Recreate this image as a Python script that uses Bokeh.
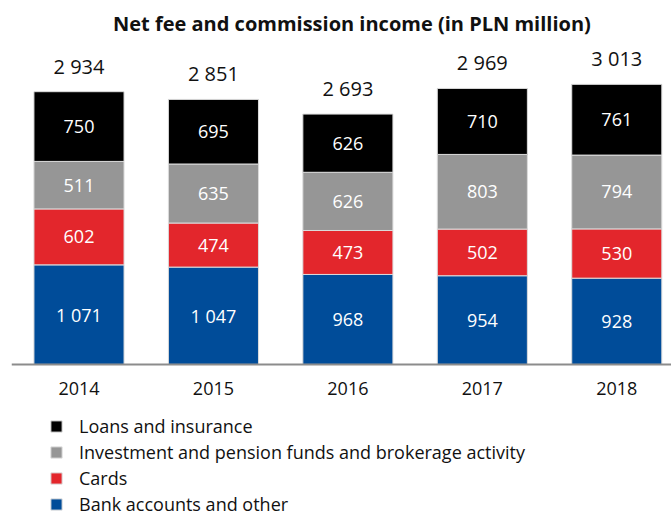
from bokeh.plotting import figure
from bokeh.models import ColumnDataSource, Range1d, FixedTicker, Legend, LegendItem, Label
from bokeh.embed import file_html
from bokeh.resources import INLINE
from bokeh.core.properties import value

years = ["2014", "2015", "2016", "2017", "2018"]
bank = [1071, 1047, 968, 954, 928]
cards = [602, 474, 473, 502, 530]
invest = [511, 635, 626, 803, 794]
loans = [750, 695, 626, 710, 761]
totals = [2934, 2851, 2693, 2969, 3013]
series_keys = ["bank", "cards", "invest", "loans"]
series_names = ["Bank accounts and other", "Cards",
                "Investment and pension funds and brokerage activity", "Loans and insurance"]
colors = ["#004c99", "#e3262c", "#969696", "#000000"]
title_text = "Net fee and commission income (in PLN million)"

FONT = "Open Sans"
Y_TOP = 3915
Y_BOTTOM = -1636


def fmt(v):
    return f"{v:,}".replace(",", " ")


x = list(range(len(years)))
source = ColumnDataSource(dict(x=x, bank=bank, cards=cards, invest=invest, loans=loans))

p = figure(width=671, height=516, output_backend="svg", toolbar_location=None,
           x_range=Range1d(-0.502, 4.407), y_range=Range1d(Y_BOTTOM, Y_TOP),
           min_border_left=11, min_border_right=0, min_border_top=0, min_border_bottom=0)

renderers = p.vbar_stack(series_keys, x="x", width=0.67, color=colors,
                         line_color="#dcdcdc", line_width=1, source=source)

# segment labels
lx, ly, lt = [], [], []
vals = [bank, cards, invest, loans]
for i in x:
    base = 0
    for s in vals:
        lx.append(i)
        ly.append(base + s[i] / 2)
        lt.append(fmt(s[i]))
        base += s[i]
p.text(x=lx, y=ly, text=lt, text_color="white", text_font=value(FONT),
       text_font_size="18px", text_align="center", text_baseline="middle")

# totals
p.text(x=x, y=totals, text=[fmt(t) for t in totals], text_color="#111111",
       text_font=value(FONT), text_font_size="20px", text_align="center",
       text_baseline="bottom", y_offset=-12)

# title
p.add_layout(Label(x=2.03, y=3667, text=title_text, text_font=FONT,
                   text_font_size="20px", text_font_style="bold", text_color="#111111",
                   text_align="center", text_baseline="middle"))

xa = p.xaxis[0]
xa.fixed_location = 0
xa.ticker = FixedTicker(ticks=x)
xa.major_label_overrides = {i: y for i, y in enumerate(years)}
xa.major_tick_line_color = None
xa.minor_tick_line_color = None
xa.major_tick_out = 0
xa.major_tick_in = 0
xa.axis_line_color = "#8c8c8c"
xa.axis_line_width = 2
xa.major_label_text_font = FONT
xa.major_label_text_font_size = "18px"
xa.major_label_text_color = "#111111"
xa.major_label_standoff = 18
p.yaxis.visible = False
p.xgrid.visible = False
p.ygrid.visible = False
p.outline_line_color = None

items = [LegendItem(label=series_names[k], renderers=[renderers[k]]) for k in [3, 2, 1, 0]]
legend = Legend(items=items, location=(38, 0), orientation="vertical",
                border_line_color=None, background_fill_alpha=0,
                label_text_font=FONT, label_text_font_size="18px", label_text_color="#111111",
                glyph_width=14, glyph_height=14, label_height=20, spacing=2,
                padding=0, margin=0, label_standoff=16)
p.add_layout(legend)

open("out.html", "w").write(file_html(p, INLINE))
